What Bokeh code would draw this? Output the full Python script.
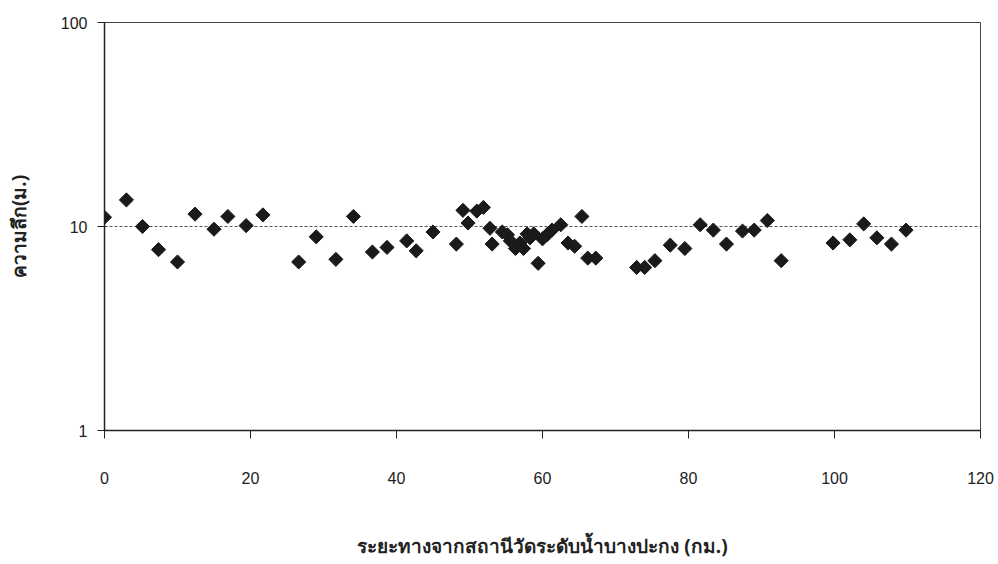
import numpy as np
from bokeh.plotting import figure
from bokeh.models import FixedTicker, PrintfTickFormatter, Range1d, ColumnDataSource
from bokeh.embed import file_html
from bokeh.resources import INLINE

# distance from Bang Pakong water level station (km)
distance_km = [0.0, 3.0, 5.2, 7.4, 10.0, 12.4, 15.0, 16.9, 19.4, 21.7,
               26.6, 29.0, 31.7, 34.1, 36.7, 38.7, 41.4, 42.7, 45.0, 48.2,
               49.1, 49.8, 51.0, 51.9, 52.8, 53.1, 54.5, 55.2, 55.6, 56.3,
               56.9, 57.4, 57.9, 58.3, 58.8, 59.4, 60.0, 60.6, 61.3, 62.5,
               63.5, 64.4, 65.4, 66.2, 67.3, 72.9, 74.0, 75.4, 77.5, 79.5,
               81.6, 83.4, 85.2, 87.4, 89.0, 90.8, 92.7, 99.8, 102.1, 104.0,
               105.8, 107.8, 109.8]
# depth (m)
depth_m = [11.1, 13.5, 10.0, 7.7, 6.7, 11.5, 9.7, 11.2, 10.1, 11.4,
           6.7, 8.9, 6.9, 11.2, 7.5, 7.9, 8.5, 7.6, 9.4, 8.2,
           12.0, 10.4, 11.9, 12.4, 9.8, 8.2, 9.4, 9.1, 8.5, 7.8,
           8.3, 7.8, 9.2, 8.8, 9.2, 6.6, 8.7, 9.1, 9.6, 10.2,
           8.3, 8.0, 11.2, 7.0, 7.0, 6.3, 6.3, 6.8, 8.1, 7.8,
           10.2, 9.6, 8.2, 9.5, 9.6, 10.7, 6.8, 8.3, 8.6, 10.3,
           8.8, 8.2, 9.6]

x_ticks = [0, 20, 40, 60, 80, 100, 120]
y_ticks = [1, 10, 100]

x_title = "ระยะทางจากสถานีวัดระดับน้ำบางปะกง (กม.)"
y_title = "ความลึก(ม.)"

p = figure(width=998, height=564, output_backend="svg", toolbar_location=None,
           y_axis_type="log",
           x_range=Range1d(0, 120), y_range=Range1d(1, 100),
           min_border_left=104, min_border_right=18,
           min_border_top=22, min_border_bottom=134)
p.background_fill_color = "white"
p.border_fill_color = "white"
p.outline_line_color = "#444444"
p.outline_line_width = 1

src = ColumnDataSource(dict(x=distance_km, y=depth_m))
p.scatter("x", "y", source=src, marker="square", angle=np.pi / 4, size=10,
          fill_color="#1a1a1a", line_color="#1a1a1a")

# grid
p.xgrid.visible = False
p.ygrid.grid_line_color = "#555555"
p.ygrid.grid_line_dash = "3 2"
p.ygrid.grid_line_width = 1
p.ygrid.ticker = FixedTicker(ticks=y_ticks)

# x axis
xa = p.xaxis[0]
xa.ticker = FixedTicker(ticks=x_ticks)
xa.axis_line_color = "#222222"
xa.axis_line_width = 1.5
xa.major_tick_line_color = "#222222"
xa.major_tick_out = 8
xa.major_tick_in = 0
xa.minor_tick_line_color = None
xa.major_label_text_font = "Liberation Sans"
xa.major_label_text_font_size = "16px"
xa.major_label_text_color = "#222222"
xa.major_label_standoff = 33
xa.axis_label = x_title
xa.axis_label_text_font = "Noto Sans"
xa.axis_label_text_font_style = "bold"
xa.axis_label_text_font_size = "19px"
xa.axis_label_text_color = "#222222"
xa.axis_label_standoff = 46

# y axis
ya = p.yaxis[0]
ya.ticker = FixedTicker(ticks=y_ticks)
ya.formatter = PrintfTickFormatter(format="%d")
ya.axis_line_color = "#222222"
ya.axis_line_width = 1.5
ya.major_tick_line_color = "#222222"
ya.major_tick_out = 7
ya.major_tick_in = 0
ya.minor_tick_line_color = None
ya.major_label_text_font = "Liberation Sans"
ya.major_label_text_font_size = "16px"
ya.major_label_text_color = "#222222"
ya.major_label_standoff = 10
ya.axis_label = y_title
ya.axis_label_text_font = "Noto Sans"
ya.axis_label_text_font_style = "bold"
ya.axis_label_text_font_size = "19px"
ya.axis_label_text_color = "#222222"
ya.axis_label_standoff = 26

open("out.html", "w").write(file_html(p, INLINE))
